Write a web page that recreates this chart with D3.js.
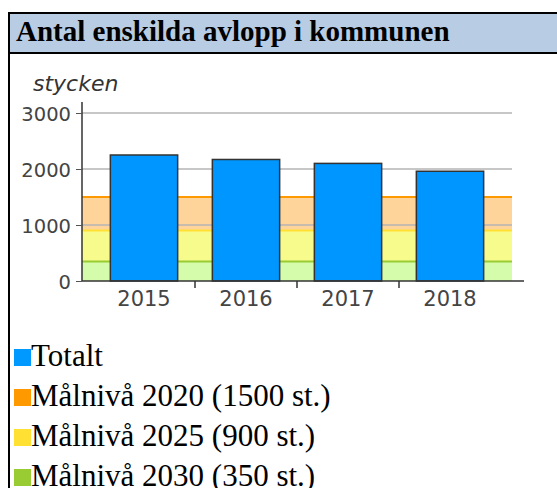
<!DOCTYPE html>
<html>
<head>
<meta charset="utf-8">
<script src="https://cdn.jsdelivr.net/npm/d3@7"></script>
<style>
  body { margin: 0; background: #fff; }
  svg { display: block; }
</style>
</head>
<body>
<svg id="chart" width="557" height="488"></svg>
<script>
const years = ["2015", "2016", "2017", "2018"];
const totals = [2250, 2170, 2100, 1960];
const yTicks = [0, 1000, 2000, 3000];
const goalNames = ["Målnivå 2020 (1500 st.)", "Målnivå 2025 (900 st.)", "Målnivå 2030 (350 st.)"];
const goalValues = [1500, 900, 350];
const goalFill = ["#fed49b", "#f6fb8c", "#d5fcab"];
const goalLine = ["#ff9900", "#ffe033", "#99cc33"];
const legendNames = ["Totalt"].concat(goalNames);
const legendColors = ["#0099ff", "#ff9900", "#ffe033", "#99cc33"];

const svg = d3.select("#chart");

// panel frame + title band
svg.append("rect").attr("x", 9).attr("y", 13).attr("width", 560).attr("height", 40)
  .attr("fill", "#b8cce4").attr("stroke", "#000").attr("stroke-width", 2);
svg.append("line").attr("x1", 9).attr("x2", 9).attr("y1", 12).attr("y2", 488)
  .attr("stroke", "#000").attr("stroke-width", 2);
svg.append("text").attr("x", 16).attr("y", 41)
  .style("font-family", "'Liberation Serif', serif").style("font-weight", "bold")
  .style("font-size", "29px").attr("fill", "#000")
  .text("Antal enskilda avlopp i kommunen");

const y = d3.scaleLinear().domain([0, 3000]).range([281, 113]);
const x = d3.scaleBand().domain(years).range([93, 501]).paddingInner(0.34).paddingOuter(0.17);
const plotL = 82, plotR = 512;

// goal bands
const bandLo = goalValues.map((v, i) => i < goalValues.length - 1 ? goalValues[i + 1] : 0);
const g = svg.append("g");
g.selectAll("rect.goal").data(goalValues).join("rect")
  .attr("x", plotL).attr("width", plotR - plotL)
  .attr("y", d => y(d)).attr("height", (d, i) => y(bandLo[i]) - y(d))
  .attr("fill", (d, i) => goalFill[i]);
g.selectAll("line.goal").data(goalValues).join("line")
  .attr("x1", plotL).attr("x2", plotR)
  .attr("y1", d => y(d)).attr("y2", d => y(d))
  .attr("stroke", (d, i) => goalLine[i]).attr("stroke-width", 2);

// gridlines
g.selectAll("line.grid").data(yTicks.filter(d => d > 0)).join("line")
  .attr("x1", plotL).attr("x2", plotR)
  .attr("y1", d => y(d)).attr("y2", d => y(d))
  .attr("stroke", "#b4b4b4").attr("stroke-width", 1.5);

// bars
svg.append("g").selectAll("rect").data(totals).join("rect")
  .attr("x", (d, i) => x(years[i]))
  .attr("width", x.bandwidth())
  .attr("y", d => y(d))
  .attr("height", d => y(0) - y(d))
  .attr("fill", "#0096ff").attr("stroke", "#333").attr("stroke-width", 1.5);

// y axis
const yAxis = svg.append("g").attr("transform", `translate(${plotL},0)`)
  .call(d3.axisLeft(y).tickValues(yTicks).tickSize(6).tickPadding(5).tickFormat(d3.format("d")));
yAxis.select(".domain").attr("d", `M0,${y(3000) - 11}V${y(0)}`).attr("stroke", "#333").attr("stroke-width", 1.5);
yAxis.selectAll(".tick line").attr("stroke", "#555");
yAxis.selectAll("text").style("font-family", "'DejaVu Sans', sans-serif")
  .style("font-size", "19.5px").attr("fill", "#444").attr("dy", "0.36em");

// x axis
const xAxis = svg.append("g").attr("transform", `translate(0,${y(0)})`);
xAxis.append("line").attr("x1", plotL).attr("x2", 524).attr("stroke", "#333").attr("stroke-width", 1.5);
xAxis.selectAll("line.sep").data(years.slice(1)).join("line")
  .attr("x1", d => x(d) - x.step() * x.paddingInner() / 2)
  .attr("x2", d => x(d) - x.step() * x.paddingInner() / 2)
  .attr("y1", 0).attr("y2", 7).attr("stroke", "#333").attr("stroke-width", 1.5);
xAxis.selectAll("text").data(years).join("text")
  .attr("x", d => x(d) + x.bandwidth() / 2).attr("y", 25)
  .attr("text-anchor", "middle")
  .style("font-family", "'DejaVu Sans', sans-serif").style("font-size", "21px")
  .attr("fill", "#444").text(d => d);

// unit label
svg.append("text").attr("x", 33).attr("y", 91)
  .style("font-family", "'DejaVu Sans', sans-serif").style("font-style", "italic")
  .style("font-size", "22px").attr("fill", "#333").text("stycken");

// legend
const leg = svg.append("g").selectAll("g").data(legendNames).join("g")
  .attr("transform", (d, i) => `translate(14,${349 + i * 40})`);
leg.append("rect").attr("width", 17).attr("height", 17).attr("fill", (d, i) => legendColors[i]);
leg.append("text").attr("x", 17).attr("y", 17)
  .style("font-family", "'Liberation Serif', serif").style("font-size", "31px")
  .attr("fill", "#000").text(d => d);
</script>
</body>
</html>
